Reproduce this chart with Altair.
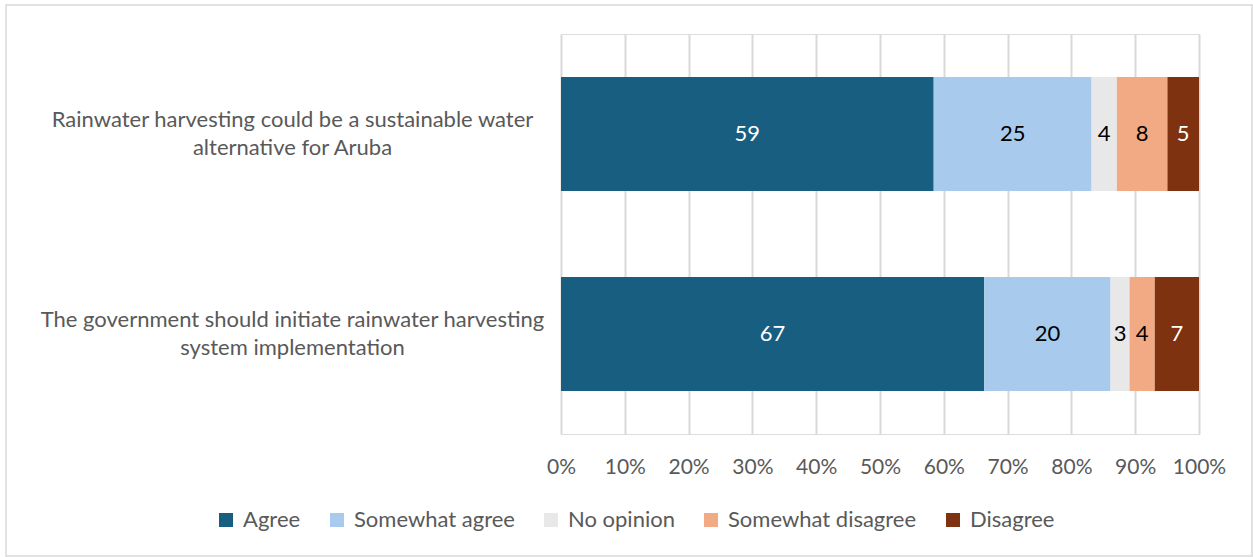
import altair as alt
import pandas as pd

# Survey statements (each split into the two lines shown on the axis)
statements = [
    "Rainwater harvesting could be a sustainable water|alternative for Aruba",
    "The government should initiate rainwater harvesting|system implementation",
]
responses = ["Agree", "Somewhat agree", "No opinion", "Somewhat disagree", "Disagree"]
colors = ["#185E80", "#A8CAEC", "#E8E8E8", "#F2AA84", "#7F3210"]
label_colors = ["white", "black", "black", "black", "white"]

# Share of respondents (%) per response, one list per statement
values_harvest_alt = [59, 25, 4, 8, 5]
values_gov_init = [67, 20, 3, 4, 7]

rows = []
for stmt, vals in zip(statements, [values_harvest_alt, values_gov_init]):
    for i, (resp, v) in enumerate(zip(responses, vals)):
        rows.append({"statement": stmt, "response": resp, "value": v,
                     "order": i, "txtcolor": label_colors[i]})
df = pd.DataFrame(rows)

FONT = "Lato"
GREY = "#595959"
FS = 22

base = alt.Chart(df).transform_joinaggregate(
    total="sum(value)", groupby=["statement"]
).transform_calculate(
    share="datum.value / datum.total"
).transform_stack(
    stack="share", groupby=["statement"], as_=["x0", "x1"],
    sort=[alt.SortField("order", order="ascending")]
).transform_calculate(
    xmid="(datum.x0 + datum.x1) / 2"
)

y_enc = alt.Y(
    "statement:N", sort=statements, title=None,
    scale=alt.Scale(paddingInner=0.43, paddingOuter=0.215),
    axis=alt.Axis(
        labelExpr="split(datum.label, '|')",
        labelAlign="center", labelBaseline="middle", labelOffset=-14,
        labelPadding=269, labelLimit=600, ticks=False, domain=False,
        labelFont=FONT, labelFontSize=FS, labelColor=GREY, labelLineHeight=28,
    ),
)

bars = base.mark_bar().encode(
    x=alt.X("x0:Q", title=None,
            scale=alt.Scale(domain=[0, 1], nice=False),
            axis=alt.Axis(values=[i / 10 for i in range(11)], format=".0%",
                          grid=True, gridColor="#D9D9D9", gridWidth=2,
                          ticks=False, domain=False, labelPadding=22,
                          labelOverlap=False, labelFlush=False,
                          labelFont=FONT, labelFontSize=21, labelColor=GREY)),
    x2="x1:Q",
    y=y_enc,
    color=alt.Color("response:N", sort=responses,
                    scale=alt.Scale(domain=responses, range=colors),
                    legend=alt.Legend(
                        title=None, orient="none", direction="horizontal",
                        legendX=-346, legendY=475,
                        symbolType="square", symbolSize=196, symbolStrokeWidth=0,
                        labelFont=FONT, labelFontSize=FS, labelColor=GREY,
                        labelLimit=400, labelOffset=6, columnPadding=25)),
    order=alt.Order("order:Q"),
)

labels = base.mark_text(font=FONT, fontSize=FS, baseline="middle").encode(
    x="xmid:Q",
    y=alt.Y("statement:N", sort=statements),
    text="value:Q",
    color=alt.Color("txtcolor:N", scale=None),
)

# Light grey frame around the whole figure
frame = alt.Chart(alt.Data(values=[{}])).mark_rect(
    fill=None, stroke="#D9D9D9", strokeWidth=1.5
).encode(
    x=alt.value(-555), x2=alt.value(691), y=alt.value(-29), y2=alt.value(522)
)

chart = alt.layer(frame, bars, labels).properties(
    width=638, height=400,
    autosize=alt.AutoSizeParams(type="none"),
    padding={"left": 561, "top": 34, "right": 54, "bottom": 123},
).configure_view(stroke=None).configure(background="white")

chart.save("out.html", embed_options={"renderer": "svg", "actions": False})
